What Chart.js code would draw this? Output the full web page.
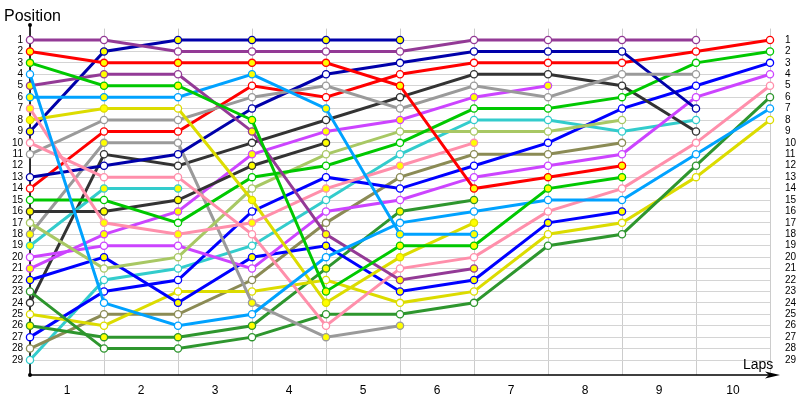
<!DOCTYPE html>
<html>
<head>
<meta charset="utf-8">
<script src="https://cdn.jsdelivr.net/npm/chart.js@4.4.1/dist/chart.umd.min.js"></script>
<style>
  html, body { margin: 0; padding: 0; background: #fff; }
  .race-chart { width: 800px; height: 400px; position: relative; }
</style>
</head>
<body>
<div class="race-chart"><canvas id="race"></canvas></div>
<script>
const laps = [0, 1, 2, 3, 4, 5, 6, 7, 8, 9, 10];
const lapLabels = ["1", "2", "3", "4", "5", "6", "7", "8", "9", "10"];
const positions = [1, 2, 3, 4, 5, 6, 7, 8, 9, 10, 11, 12, 13, 14, 15, 16, 17, 18, 19, 20, 21, 22, 23, 24, 25, 26, 27, 28, 29];

// position of each driver after every lap (lap 0 = grid)
const drv01 = [1, 1, 2, 2, 2, 2, 1, 1, 1, 1];
const drv02 = [2, 3, 3, 3, 3, 5, 14, 13, 12];
const drv03 = [3, 5, 5, 8, 23, 19, 19, 14, 13];
const drv04 = [4, 24, 26, 25, 20, 17, 16, 15, 15, 11, 7];
const drv05 = [5, 4, 4, 9, 18, 22, 21];
const drv06 = [6, 6, 6, 4, 7, 18, 18];
const drv07 = [7, 17, 18, 17, 14, 12, 10];
const drv08 = [8, 7, 7, 15, 24, 20, 17];
const drv09 = [9, 2, 1, 1, 1, 1];
const drv10 = [10, 13, 13, 18, 26, 21, 20, 16, 14, 10, 5];
const drv11 = [11, 8, 8, 6, 5, 7, 5, 6, 4, 4];
const drv13 = [13, 12, 11, 7, 4, 3, 2, 2, 2, 7];
const drv14 = [14, 9, 9, 5, 6, 4, 3, 3, 3, 2, 1];
const drv15 = [15, 15, 17, 13, 12, 10, 7, 7, 6, 3, 2];
const drv16 = [16, 16, 15, 12, 10];
const drv17 = [17, 21, 20, 14, 11, 9, 9, 9, 8];
const drv18 = [18, 10, 10, 24, 27, 26];
const drv19 = [19, 14, 14];
const drv20 = [20, 19, 19, 21, 16, 15, 13, 12, 11, 6, 4];
const drv21 = [21, 18, 16, 11, 9, 8, 6, 5];
const drv22 = [22, 20, 24, 20, 19, 23, 22, 17, 16];
const drv23 = [23, 28, 28, 27, 25, 25, 24, 19, 18, 12, 6];
const drv24 = [24, 11, 12, 10, 8, 6, 4, 4, 5, 9];
const drv25 = [25, 26, 23, 23, 22, 24, 23, 18, 17, 13, 8];
const drv26 = [26, 27, 27, 26, 21, 16, 15];
const drv27 = [27, 23, 22, 16, 13, 14, 12, 10, 7, 5, 3];
const drv28 = [28, 25, 25, 22, 17, 13, 11, 11, 10];
const drv29 = [29, 22, 21, 19, 15, 11, 8, 8, 9, 8];

// laps where the driver's marker is filled
const mark02 = [0, 1, 2, 3, 4, 5, 6, 7, 8];
const mark03 = [0, 1, 2, 3, 4, 5, 6, 7, 8];
const mark05 = [0, 1, 3, 4, 5, 6];
const mark06 = [0, 1, 3, 4, 5, 6];
const mark07 = [0, 1, 2, 3, 4, 5, 6];
const mark08 = [0, 1, 3, 4, 5, 6];
const mark09 = [0, 1, 2, 3, 4, 5];
const mark16 = [0, 1, 2, 3, 4];
const mark18 = [0, 1, 3, 4, 5];
const mark19 = [0, 1, 2];
const mark21 = [0, 1, 2, 3, 4, 5, 6, 7];
const mark22 = [0, 1, 2, 3, 4, 5, 6, 7, 8];
const mark26 = [0, 1, 2, 3, 4, 5, 6];

const PURPLE = "#933a96";
const RED = "#ff0000";
const GREEN = "#00c800";
const SKY = "#00a2ff";
const PINK = "#ff8fab";
const YELLOW = "#dcdc00";
const NAVY = "#0000aa";
const GRAY = "#9a9a9a";
const DKGRAY = "#333333";
const LIME = "#a8c864";
const TEAL = "#33cccc";
const VIOLET = "#cc44ff";
const BLUE = "#0000ff";
const DKGREEN = "#2e962e";
const OLIVE = "#8b8b55";

const drivers = [
  [drv01, PURPLE, []],
  [drv02, RED, mark02],
  [drv03, GREEN, mark03],
  [drv04, SKY, []],
  [drv05, PURPLE, mark05],
  [drv06, SKY, mark06],
  [drv07, PINK, mark07],
  [drv08, YELLOW, mark08],
  [drv09, NAVY, mark09],
  [drv10, PINK, []],
  [drv11, GRAY, []],
  [drv13, NAVY, []],
  [drv14, RED, []],
  [drv15, GREEN, []],
  [drv16, DKGRAY, mark16],
  [drv17, LIME, []],
  [drv18, GRAY, mark18],
  [drv19, TEAL, mark19],
  [drv20, VIOLET, []],
  [drv21, VIOLET, mark21],
  [drv22, BLUE, mark22],
  [drv23, DKGREEN, []],
  [drv24, DKGRAY, []],
  [drv25, YELLOW, []],
  [drv26, DKGREEN, mark26],
  [drv27, BLUE, []],
  [drv28, OLIVE, []],
  [drv29, TEAL, []],
];

const datasets = drivers.map(([vals, color, marks]) => ({
  data: vals.map((v, i) => ({ x: laps[i], y: v })),
  borderColor: color,
  borderWidth: 3,
  pointRadius: 3.6,
  pointBorderWidth: 1.3,
  pointBorderColor: color,
  pointBackgroundColor: vals.map((v, i) => (marks.includes(i) ? "#ffff00" : "#ffffff")),
  tension: 0,
  clip: false,
  xAxisID: "x",
  yAxisID: "y",
}));

const tickFont = { family: "Liberation Sans", size: 10 };
// 1st place sits at y=40, 29th at y=360, x axis at y=375
const PX_PER_POS = 320 / 28;
const Y_MAX = 29 + 15 / PX_PER_POS;
const TOP_PAD = 40 - PX_PER_POS;

const axesPlugin = {
  id: "axes",
  beforeDatasetsDraw(chart) {
    const { ctx, chartArea } = chart;
    const x0 = chartArea.left;
    const y0 = chartArea.bottom;
    ctx.save();
    ctx.strokeStyle = "#000";
    ctx.fillStyle = "#000";
    ctx.lineWidth = 1.6;
    ctx.beginPath();
    ctx.moveTo(x0, 25);
    ctx.lineTo(x0, y0);
    ctx.lineTo(770, y0);
    ctx.stroke();
    ctx.beginPath();
    ctx.moveTo(780, y0);
    ctx.lineTo(765, y0 - 3.5);
    ctx.lineTo(769, y0);
    ctx.lineTo(765, y0 + 3.5);
    ctx.closePath();
    ctx.fill();
    ctx.beginPath();
    ctx.arc(x0, 25, 2, 0, Math.PI * 2);
    ctx.arc(x0, y0, 2, 0, Math.PI * 2);
    ctx.fill();
    ctx.restore();
  },
  afterDraw(chart) {
    const { ctx } = chart;
    ctx.save();
    ctx.fillStyle = "#000";
    ctx.textBaseline = "alphabetic";
    ctx.font = "16px 'Liberation Sans'";
    ctx.fillText("Position", 4, 21);
    ctx.font = "14px 'Liberation Sans'";
    ctx.fillText("Laps", 743, 368.5);
    ctx.restore();
  },
};

new Chart(document.getElementById("race"), {
  type: "line",
  data: { datasets },
  plugins: [axesPlugin],
  options: {
    responsive: true,
    maintainAspectRatio: false,
    animation: false,
    layout: { padding: { top: TOP_PAD, left: 0, right: 0, bottom: 0 } },
    plugins: {
      legend: { display: false },
      tooltip: { enabled: false },
    },
    scales: {
      x: {
        type: "linear",
        position: "bottom",
        min: 0,
        max: 10,
        ticks: { display: false, stepSize: 1 },
        grid: { color: "#cccccc", drawTicks: false },
        border: { display: false },
        afterFit(scale) { scale.height = 0; },
      },
      x2: {
        type: "linear",
        position: "bottom",
        min: 0,
        max: 10,
        grid: { display: false },
        border: { display: false },
        afterBuildTicks(scale) { scale.ticks = lapLabels.map((t, i) => ({ value: i + 0.5 })); },
        ticks: {
          callback: (v, i) => lapLabels[i],
          autoSkip: false,
          maxRotation: 0,
          padding: 0,
          color: "#000",
          font: { family: "Liberation Sans", size: 12 },
        },
        afterFit(scale) { scale.height = 25; },
      },
      y: {
        type: "linear",
        position: "left",
        reverse: true,
        min: 0,
        max: Y_MAX,
        afterBuildTicks(scale) { scale.ticks = positions.map((v) => ({ value: v })); },
        ticks: { callback: (v) => String(v), autoSkip: false, padding: 7, color: "#000", font: tickFont },
        grid: { color: "#d4d4d4", drawTicks: false },
        border: { display: false },
        afterFit(scale) { scale.width = 30; },
      },
      y2: {
        type: "linear",
        position: "right",
        reverse: true,
        min: 0,
        max: Y_MAX,
        afterBuildTicks(scale) { scale.ticks = positions.map((v) => ({ value: v })); },
        ticks: { callback: (v) => String(v), autoSkip: false, padding: 7, color: "#000", font: tickFont },
        grid: { display: false },
        border: { display: false },
        afterFit(scale) { scale.width = 30; },
      },
    },
  },
});
</script>
</body>
</html>
